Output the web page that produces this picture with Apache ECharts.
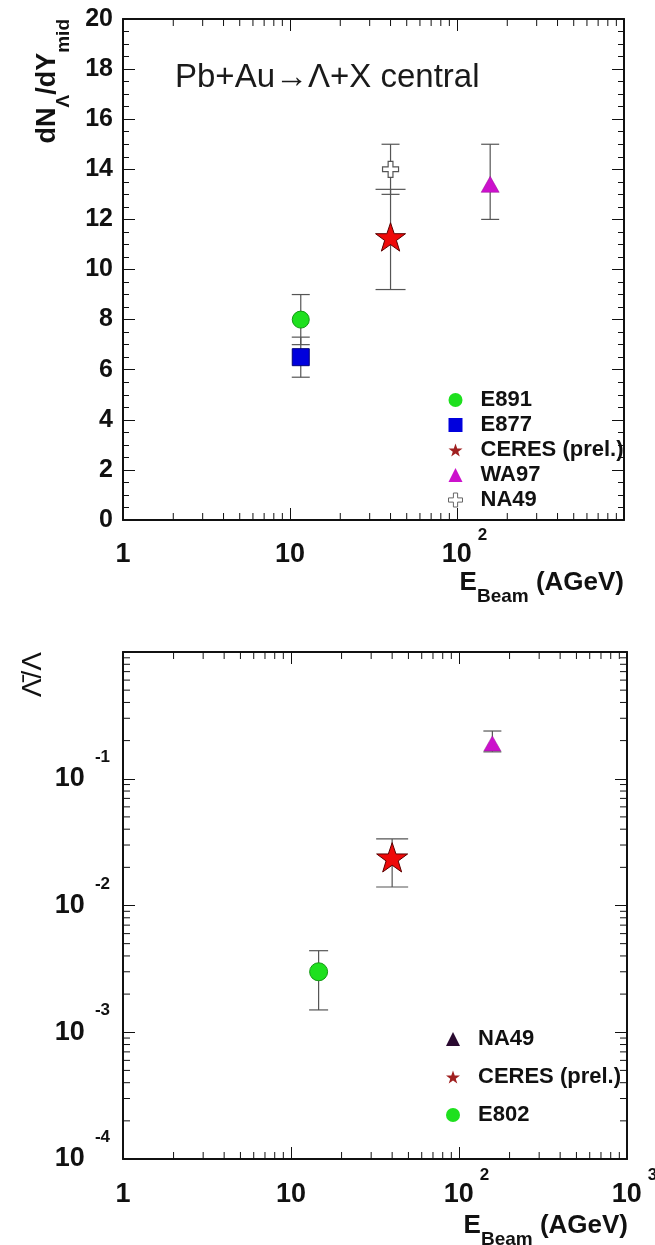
<!DOCTYPE html>
<html><head><meta charset="utf-8">
<script src="https://cdn.jsdelivr.net/npm/echarts@6/dist/echarts.min.js"></script>
<style>html,body{margin:0;padding:0;background:#fff}#c{width:655px;height:1245px}</style>
</head><body><div id="c"></div>
<script>
// ---- data: [E_beam (AGeV), value, lower error end, upper error end] ----
// upper panel: dN_Lambda/dY_mid
const topE891  = [11.6, 8.0, 7.0, 9.0];
const topE877  = [11.6, 6.5, 5.7, 7.3];
const topCERES = [40, 11.3, 9.2, 13.2];
const topWA97  = [158, 13.4, 12.0, 15.0];
const topNA49  = [40, 14.0, 13.0, 15.0];
// lower panel: antiLambda / Lambda
const botNA49  = [158, 0.19, 0.163, 0.238];
const botCERES = [40, 0.024, 0.014, 0.0335];
const botE802  = [14.6, 0.0030, 0.0015, 0.0044];

// ---- tick definitions ----
const xMinorTicks = [2,3,4,5,6,7,8,9,20,30,40,50,60,70,80,90,200,300,400,500,600,700,800,900];
const yLogMinorTicks = [0.0002,0.0003,0.0004,0.0005,0.0006,0.0007,0.0008,0.0009,
  0.002,0.003,0.004,0.005,0.006,0.007,0.008,0.009,
  0.02,0.03,0.04,0.05,0.06,0.07,0.08,0.09,
  0.2,0.3,0.4,0.5,0.6,0.7,0.8,0.9];

const FF = '"Liberation Sans", Arial, Helvetica, sans-serif';
const INK = '#111';
const BAR = '#555';
const STAR = 'path://M50,0 L61.8,35.1 L98.1,35.1 L68.8,56.8 L79.4,91 L50,70 L20.6,91 L31.2,56.8 L1.9,35.1 L38.2,35.1 Z';
const CROSS = 'path://M35,0 H65 V35 H100 V65 H65 V100 H35 V65 H0 V35 H35 Z';

const xRich = {
  b:  {fontSize:27, fontWeight:'bold', fontFamily:FF, color:INK, lineHeight:56},
  bp: {fontSize:27, fontWeight:'bold', fontFamily:FF, color:INK, lineHeight:56, padding:[0,0,0,15]},
  s:  {fontSize:17, fontWeight:'bold', fontFamily:FF, color:INK, lineHeight:17, padding:[0,0,39,6]}
};
function xLogLabel(hideMax) {
  return function (v) {
    const e = Math.round(Math.log10(v));
    if (hideMax && e === 3) return '';
    if (e === 0) return '{b|1}';
    if (e === 1) return '{b|10}';
    return '{bp|10}{s|' + e + '}';
  };
}
const yRich = {
  b: {fontSize:27, fontWeight:'bold', fontFamily:FF, color:INK, lineHeight:60},
  s: {fontSize:17, fontWeight:'bold', fontFamily:FF, color:INK, lineHeight:17, padding:[0,0,43,10]}
};
function yLogLabel(v) {
  const e = Math.round(Math.log10(v));
  if (e === 0) return '';
  return '{b|10}{s|' + e + '}';
}

const lineStyleBlack = {color:INK, width:2};
const tickMajor = {show:true, inside:true, length:12, lineStyle:{color:INK, width:1}};

function logX(grid, pos, showLabel, hideMax, margin) {
  return {type:'log', logBase:10, gridIndex:grid, position:pos, min:1, max:1000,
    axisLine:{show:true, onZero:false, lineStyle:lineStyleBlack},
    axisTick:tickMajor, splitLine:{show:false}, minorTick:{show:false},
    axisLabel:{show:showLabel, margin:margin, formatter:xLogLabel(hideMax), rich:xRich,
      showMinLabel:true, showMaxLabel:true}};
}

function errorBars(pt, axisIdx, capHalf) {
  return {
    type:'custom', xAxisIndex:axisIdx, yAxisIndex:axisIdx, z:2, silent:true,
    data:[[pt[0], pt[2], pt[3]]],
    encode:{x:0, y:[1,2]},
    renderItem:function (params, api) {
      const x = api.value(0);
      const lo = api.coord([x, api.value(1)]);
      const hi = api.coord([x, api.value(2)]);
      const st = {stroke:BAR, lineWidth:1.2};
      return {type:'group', children:[
        {type:'line', shape:{x1:lo[0], y1:lo[1], x2:hi[0], y2:hi[1]}, style:st},
        {type:'line', shape:{x1:lo[0]-capHalf, y1:lo[1], x2:lo[0]+capHalf, y2:lo[1]}, style:st},
        {type:'line', shape:{x1:hi[0]-capHalf, y1:hi[1], x2:hi[0]+capHalf, y2:hi[1]}, style:st}
      ]};
    }
  };
}

function xMinorSeries(axisIdx, yRef) {
  return {
    type:'custom', xAxisIndex:axisIdx, yAxisIndex:axisIdx, z:3, silent:true,
    data:xMinorTicks.map(function (v) { return [v, yRef]; }),
    encode:{x:0, y:1},
    renderItem:function (params, api) {
      const cs = params.coordSys;
      const x = api.coord([api.value(0), api.value(1)])[0];
      const st = {stroke:INK, lineWidth:1};
      return {type:'group', children:[
        {type:'line', shape:{x1:x, y1:cs.y+cs.height, x2:x, y2:cs.y+cs.height-7}, style:st},
        {type:'line', shape:{x1:x, y1:cs.y, x2:x, y2:cs.y+7}, style:st}
      ]};
    }
  };
}

function yLogMinorSeries(axisIdx, xRef) {
  return {
    type:'custom', xAxisIndex:axisIdx, yAxisIndex:axisIdx, z:3, silent:true,
    data:yLogMinorTicks.map(function (v) { return [xRef, v]; }),
    encode:{x:0, y:1},
    renderItem:function (params, api) {
      const cs = params.coordSys;
      const y = api.coord([api.value(0), api.value(1)])[1];
      const st = {stroke:INK, lineWidth:1};
      return {type:'group', children:[
        {type:'line', shape:{x1:cs.x, y1:y, x2:cs.x+7, y2:y}, style:st},
        {type:'line', shape:{x1:cs.x+cs.width, y1:y, x2:cs.x+cs.width-7, y2:y}, style:st}
      ]};
    }
  };
}

const greenStyle = {color:'#1ee01e', borderColor:'#119a11', borderWidth:1, opacity:1};
const starStyle = {color:'#ee0a0a', borderColor:'#5a0000', borderWidth:1, opacity:1};
const magStyle = {color:'#cc11cc', borderColor:'#991199', borderWidth:0.5, opacity:1};

const legendText = {fontSize:22, fontWeight:'bold', fontFamily:FF, color:INK, lineHeight:22, padding:[0,0,0,13]};

const option = {
  backgroundColor:'#ffffff',
  animation:false,
  title:{text:'Pb+Au\u2192\u039B+X central', left:175, top:61, padding:0,
    textStyle:{fontSize:33, fontWeight:'normal', fontFamily:FF, color:'#1a1a1a'}},
  grid:[
    {left:123, top:19, width:501, height:501, outerBoundsMode:'none', containLabel:false},
    {left:123, top:652, width:504, height:507, outerBoundsMode:'none', containLabel:false}
  ],
  xAxis:[
    logX(0, 'bottom', true, true, 7),
    logX(0, 'top', false, true, 7),
    logX(1, 'bottom', true, false, 8),
    logX(1, 'top', false, false, 8)
  ],
  yAxis:[
    {type:'value', gridIndex:0, position:'left', min:0, max:20, interval:2,
      axisLine:{show:true, onZero:false, lineStyle:lineStyleBlack}, axisTick:tickMajor,
      minorTick:{show:true, splitNumber:4, length:6, lineStyle:{color:INK, width:1}},
      splitLine:{show:false}, minorSplitLine:{show:false},
      axisLabel:{margin:10, fontSize:25, fontWeight:'bold', fontFamily:FF, color:INK, showMinLabel:true, showMaxLabel:true}},
    {type:'value', gridIndex:0, position:'right', min:0, max:20, interval:2,
      axisLine:{show:true, onZero:false, lineStyle:lineStyleBlack}, axisTick:tickMajor,
      minorTick:{show:true, splitNumber:4, length:6, lineStyle:{color:INK, width:1}},
      splitLine:{show:false}, axisLabel:{show:false}},
    {type:'log', logBase:10, gridIndex:1, position:'left', min:0.0001, max:1,
      axisLine:{show:true, onZero:false, lineStyle:lineStyleBlack}, axisTick:tickMajor,
      splitLine:{show:false}, minorTick:{show:false},
      axisLabel:{margin:13, formatter:yLogLabel, rich:yRich, showMinLabel:true, showMaxLabel:true}},
    {type:'log', logBase:10, gridIndex:1, position:'right', min:0.0001, max:1,
      axisLine:{show:true, onZero:false, lineStyle:lineStyleBlack}, axisTick:tickMajor,
      splitLine:{show:false}, minorTick:{show:false}, axisLabel:{show:false}}
  ],
  legend:[
    {orient:'vertical', left:443, top:384, itemWidth:14, itemHeight:14, itemGap:3,
      textStyle:legendText, selectedMode:false,
      data:[
        {name:'E891', icon:'circle', itemStyle:{color:'#1ee01e', borderWidth:0, opacity:1}},
        {name:'E877', icon:'rect', itemStyle:{color:'#0000dd', borderWidth:0, opacity:1}},
        {name:'CERES (prel.)', icon:STAR, itemStyle:{color:'#a02020', borderWidth:0, opacity:1}},
        {name:'WA97', icon:'triangle', itemStyle:{color:'#cc11cc', borderWidth:0, opacity:1}},
        {name:'NA49', icon:CROSS, itemStyle:{color:'#ffffff', borderColor:'#666', borderWidth:1, opacity:1}}
      ]},
    {orient:'vertical', left:441, top:1023, itemWidth:14, itemHeight:14, itemGap:16,
      textStyle:legendText, selectedMode:false,
      data:[
        {name:'NA49', icon:'triangle', itemStyle:{color:'#2a0a30', borderWidth:0, opacity:1}},
        {name:'CERES (prel.)', icon:STAR, itemStyle:{color:'#a02020', borderWidth:0, opacity:1}},
        {name:'E802', icon:'circle', itemStyle:{color:'#1ee01e', borderWidth:0, opacity:1}}
      ]}
  ],
  graphic:[
    {type:'text', x:48, y:19, rotation:Math.PI/2, silent:true,
      style:{text:'{b|dN}{s|\u039B}{b|/dY}{s|mid}', align:'right', verticalAlign:'middle',
        rich:{b:{fontSize:27, fontWeight:'bold', fontFamily:FF, fill:INK, lineHeight:51},
              s:{fontSize:19, fontWeight:'bold', fontFamily:FF, fill:INK, lineHeight:19, padding:[32,0,0,0]}}}},
    {type:'text', x:624, y:583, silent:true,
      style:{text:'{b|E}{s|Beam}{b| (AGeV)}', align:'right', verticalAlign:'middle',
        rich:{b:{fontSize:26, fontWeight:'bold', fontFamily:FF, fill:INK, lineHeight:47},
              s:{fontSize:19, fontWeight:'bold', fontFamily:FF, fill:INK, lineHeight:19, padding:[28,0,0,0]}}}},
    {type:'text', x:628, y:1226, silent:true,
      style:{text:'{b|E}{s|Beam}{b| (AGeV)}', align:'right', verticalAlign:'middle',
        rich:{b:{fontSize:26, fontWeight:'bold', fontFamily:FF, fill:INK, lineHeight:47},
              s:{fontSize:19, fontWeight:'bold', fontFamily:FF, fill:INK, lineHeight:19, padding:[28,0,0,0]}}}},
    {type:'text', x:33, y:652, rotation:Math.PI/2, silent:true,
      style:{text:'\u039B\u0304/\u039B', align:'right', verticalAlign:'middle',
        fontSize:28, fontWeight:'normal', fontFamily:FF, fill:INK}}
  ],
  series:[
    xMinorSeries(0, 10),
    xMinorSeries(2, 0.01),
    yLogMinorSeries(2, 10),
    errorBars(topE891, 0, 9),
    errorBars(topE877, 0, 9),
    errorBars(topNA49, 0, 9),
    errorBars(topCERES, 0, 15),
    errorBars(topWA97, 0, 9),
    errorBars(botNA49, 2, 9),
    errorBars(botCERES, 2, 16),
    errorBars(botE802, 2, 9.5),
    {type:'scatter', name:'E891', xAxisIndex:0, yAxisIndex:0, z:5, symbol:'circle', symbolSize:17,
      itemStyle:greenStyle, data:[[topE891[0], topE891[1]]]},
    {type:'scatter', name:'E877', xAxisIndex:0, yAxisIndex:0, z:5, symbol:'rect', symbolSize:17,
      itemStyle:{color:'#0000dd', borderColor:'#00007a', borderWidth:1, opacity:1}, data:[[topE877[0], topE877[1]]]},
    {type:'scatter', name:'CERES (prel.)', xAxisIndex:0, yAxisIndex:0, z:5, symbol:STAR, symbolSize:30,
      symbolKeepAspect:true, itemStyle:starStyle, data:[[topCERES[0], topCERES[1]]]},
    {type:'scatter', name:'WA97', xAxisIndex:0, yAxisIndex:0, z:5, symbol:'triangle', symbolSize:[18,16],
      itemStyle:magStyle, data:[[topWA97[0], topWA97[1]]]},
    {type:'scatter', name:'NA49', xAxisIndex:0, yAxisIndex:0, z:5, symbol:CROSS, symbolSize:16,
      itemStyle:{color:'#ffffff', borderColor:'#555', borderWidth:1.2, opacity:1}, data:[[topNA49[0], topNA49[1]]]},
    {type:'scatter', name:'NA49', xAxisIndex:2, yAxisIndex:2, z:5, symbol:'triangle', symbolSize:[17,15],
      itemStyle:magStyle, data:[[botNA49[0], botNA49[1]]]},
    {type:'scatter', name:'CERES (prel.)', xAxisIndex:2, yAxisIndex:2, z:5, symbol:STAR, symbolSize:31,
      symbolKeepAspect:true, itemStyle:starStyle, data:[[botCERES[0], botCERES[1]]]},
    {type:'scatter', name:'E802', xAxisIndex:2, yAxisIndex:2, z:5, symbol:'circle', symbolSize:18,
      itemStyle:greenStyle, data:[[botE802[0], botE802[1]]]}
  ]
};

const chart = echarts.init(document.getElementById('c'), null, {renderer:'canvas'});
chart.setOption(option);
</script>
</body></html>
